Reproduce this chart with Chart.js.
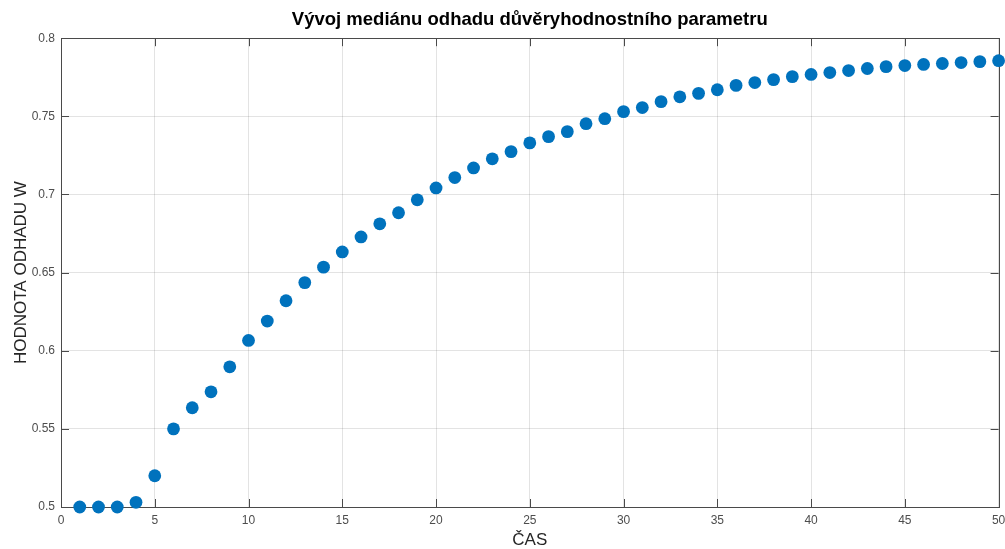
<!DOCTYPE html>
<html>
<head>
<meta charset="utf-8">
<script src="https://cdn.jsdelivr.net/npm/chart.js@4"></script>
<style>
  html, body { margin: 0; padding: 0; background: #fff; }
  #wrap { width: 1005px; height: 549px; }
</style>
</head>
<body>
<div id="wrap"><canvas id="c" width="1005" height="549"></canvas></div>
<script>
// Time steps and median estimate of the trust parameter W
const times = [1,2,3,4,5,6,7,8,9,10,11,12,13,14,15,16,17,18,19,20,21,22,23,24,25,
               26,27,28,29,30,31,32,33,34,35,36,37,38,39,40,41,42,43,44,45,46,47,48,49,50];
const medianW = [0.500,0.500,0.500,0.503,0.520,0.550,0.5635,0.5737,0.5897,0.6066,
                 0.619,0.6320,0.6436,0.6535,0.6632,0.6728,0.6812,0.6883,0.6966,0.7042,
                 0.7108,0.7170,0.7228,0.7274,0.7330,0.7370,0.7402,0.7453,0.7485,0.7530,
                 0.7556,0.7594,0.7625,0.7647,0.7670,0.7698,0.7716,0.7735,0.7754,0.7768,
                 0.7780,0.7793,0.7806,0.7818,0.7825,0.7832,0.7838,0.7844,0.7850,0.7856];
const xTicks = [0,5,10,15,20,25,30,35,40,45,50];
const yTicks = [0.5,0.55,0.6,0.65,0.7,0.75,0.8];

const titleText = 'Vývoj mediánu odhadu důvěryhodnostního parametru';
const xTitle = 'ČAS';
const yTitle = 'HODNOTA ODHADU W';

const FONT = '"Liberation Sans", Arial, Helvetica, sans-serif';
const FRAME = '#4a4a4a';
const TICK_LEN = 8;

// Box around the axes with inward tick marks on all four sides
const axesBox = {
  id: 'axesBox',
  beforeDatasetsDraw(chart) {
    const { ctx, chartArea: a, scales: { x, y } } = chart;
    ctx.save();
    ctx.strokeStyle = FRAME;
    ctx.lineWidth = 1;
    ctx.beginPath();
    xTicks.forEach(v => {
      const px = Math.round(x.getPixelForValue(v)) + 0.5;
      ctx.moveTo(px, a.bottom); ctx.lineTo(px, a.bottom - TICK_LEN);
      ctx.moveTo(px, a.top); ctx.lineTo(px, a.top + TICK_LEN);
    });
    yTicks.forEach(v => {
      const py = Math.round(y.getPixelForValue(v)) + 0.5;
      ctx.moveTo(a.left, py); ctx.lineTo(a.left + TICK_LEN, py);
      ctx.moveTo(a.right, py); ctx.lineTo(a.right - TICK_LEN, py);
    });
    ctx.stroke();
    ctx.strokeRect(Math.round(a.left) + 0.5, Math.round(a.top) + 0.5,
                   Math.round(a.right - a.left), Math.round(a.bottom - a.top));
    ctx.restore();
  }
};

new Chart(document.getElementById('c'), {
  type: 'scatter',
  data: {
    datasets: [{
      data: times.map((t, i) => ({ x: t, y: medianW[i] })),
      backgroundColor: '#0072BD',
      borderColor: '#0072BD',
      pointRadius: 6.4,
      pointHoverRadius: 6.4,
      borderWidth: 0,
      clip: false
    }]
  },
  options: {
    responsive: false,
    animation: false,
    events: [],
    layout: { padding: { left: 0, right: 6, top: 0, bottom: 0 } },
    plugins: {
      legend: { display: false },
      tooltip: { enabled: false },
      title: {
        display: true,
        fullSize: false,
        text: titleText,
        color: '#000',
        font: { family: FONT, size: 18.5, weight: 'bold', lineHeight: 1.2 },
        padding: { top: 9, bottom: 7 }
      }
    },
    scales: {
      x: {
        type: 'linear',
        min: 0, max: 50,
        afterBuildTicks: s => { s.ticks = xTicks.map(v => ({ value: v })); },
        afterFit: s => { s.height = 42; s.paddingLeft = 0; s.paddingRight = 0; },
        ticks: {
          color: '#4d4d4d',
          font: { family: FONT, size: 12 },
          padding: 6,
          maxRotation: 0,
          callback: v => String(v)
        },
        grid: { color: 'rgba(0,0,0,0.11)', drawTicks: false },
        border: { display: false },
        title: {
          display: true,
          text: xTitle,
          color: '#262626',
          font: { family: FONT, size: 17, lineHeight: 1 },
          padding: { top: 0, bottom: 0 }
        }
      },
      y: {
        type: 'linear',
        min: 0.5, max: 0.8,
        afterBuildTicks: s => { s.ticks = yTicks.map(v => ({ value: v })); },
        afterFit: s => { s.width = 61; s.paddingTop = 0; s.paddingBottom = 0; },
        ticks: {
          color: '#4d4d4d',
          font: { family: FONT, size: 12 },
          padding: 6,
          callback: v => String(+v.toFixed(2))
        },
        grid: { color: 'rgba(0,0,0,0.11)', drawTicks: false },
        border: { display: false },
        title: {
          display: true,
          text: yTitle,
          color: '#262626',
          font: { family: FONT, size: 17, lineHeight: 1 },
          padding: { top: 13, bottom: 0 }
        }
      }
    }
  },
  plugins: [axesBox]
});
</script>
</body>
</html>
